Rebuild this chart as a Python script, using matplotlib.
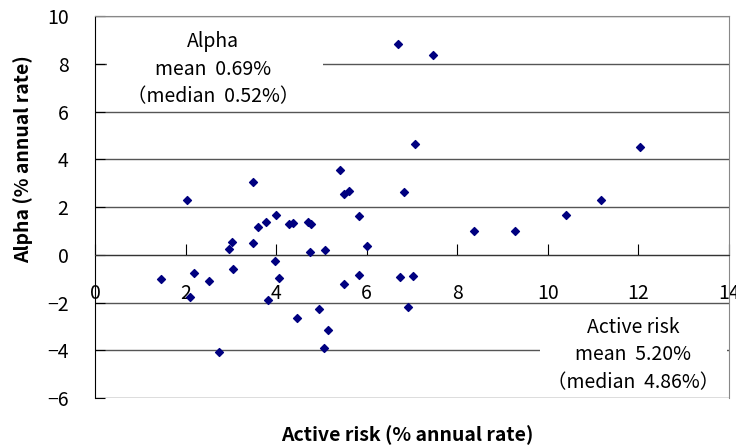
import matplotlib.pyplot as plt
from matplotlib.patches import Rectangle

plt.rcParams['font.family'] = ['Noto Sans CJK JP', 'DejaVu Sans']

# active risk (x) and alpha (y), % annual rate
active_risk = [1.46, 2.04, 2.19, 2.10, 2.52, 2.74, 2.97, 3.02, 3.05, 3.48,
               3.50, 3.61, 3.77, 3.99, 3.98, 4.07, 3.83, 4.28, 4.38, 4.46,
               4.70, 4.77, 4.75, 4.95, 5.42, 5.51, 5.60, 5.82, 6.01, 5.07,
               6.83, 7.07, 8.38, 5.51, 5.84, 6.73, 7.02, 6.91, 5.14, 5.05,
               6.70, 7.46, 9.28, 10.41, 11.18, 12.03]
alpha = [-1.00, 2.28, -0.76, -1.77, -1.09, -4.06, 0.24, 0.53, -0.60, 3.03,
         0.49, 1.15, 1.36, 1.66, -0.25, -0.97, -1.90, 1.29, 1.32, -2.63,
         1.37, 1.29, 0.12, -2.26, 3.54, 2.53, 2.67, 1.61, 0.37, 0.20,
         2.61, 4.62, 0.99, -1.23, -0.85, -0.92, -0.89, -2.17, -3.14, -3.89,
         8.83, 8.37, 0.99, 1.65, 2.28, 4.50]

alpha_note = 'Alpha\nmean  0.69%\n（median  0.52%）'
risk_note = 'Active risk\nmean  5.20%\n（median  4.86%）'

fig = plt.figure(figsize=(7.36, 4.46), dpi=100)
ax = fig.add_axes([0.129, 0.1076, 0.8615, 0.8565])

ax.scatter(active_risk, alpha, marker='D', s=16, color='#000080', zorder=5)

ax.set_xlim(0, 14)
ax.set_ylim(-6, 10)
ax.set_xticks(range(0, 15, 2))
ax.set_yticks(range(-6, 11, 2))

# horizontal gridlines + frame
for yv in range(-6, 11, 2):
    ax.axhline(yv, color='#555555', lw=1, zorder=1)
ax.spines['bottom'].set_position(('data', 0))
ax.spines['bottom'].set_color('#333333')
for s in ['top', 'right']:
    ax.spines[s].set_color('#888888')
ax.spines['left'].set_color('black')

ax.tick_params(axis='x', direction='in', length=8, pad=20, labelsize=14)
ax.tick_params(axis='y', direction='in', length=7, pad=19, labelsize=14)

ax.set_ylabel('Alpha (% annual rate)', fontsize=14, fontweight='bold', va='center')
ax.yaxis.set_label_coords(-0.114, 0.626)
ax.set_xlabel('Active risk (% annual rate)', fontsize=14, fontweight='bold', va='center')
ax.xaxis.set_label_coords(0.492, -0.097)

# white boxes behind the notes
ax.add_patch(Rectangle((0.019, 0.764), 0.34, 0.22, transform=ax.transAxes,
                       facecolor='white', edgecolor='none', zorder=3))
ax.add_patch(Rectangle((0.702, 0.005), 0.295, 0.23, transform=ax.transAxes,
                       facecolor='white', edgecolor='none', zorder=3))

ax.text(0.186, 0.861, alpha_note, transform=ax.transAxes, ha='center',
        va='center', fontsize=14, linespacing=1.4, zorder=4)
ax.text(0.849, 0.113, risk_note, transform=ax.transAxes, ha='center',
        va='center', fontsize=14, linespacing=1.4, zorder=4)

fig.savefig('out.png', dpi=100)
